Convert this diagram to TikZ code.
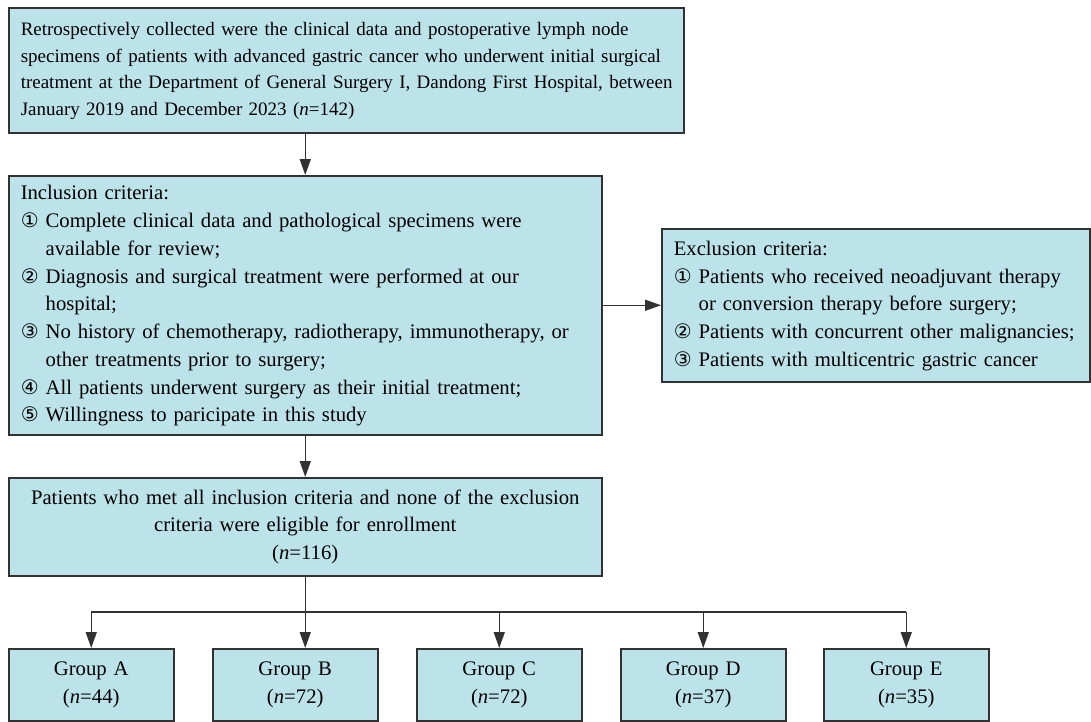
\documentclass[tikz,border=0pt]{standalone}
\usepackage{fontspec}
\setmainfont{Liberation Serif}
\newfontfamily\circfont{DejaVu Sans}
\usetikzlibrary{arrows.meta}
\definecolor{boxfill}{RGB}{188,227,233}
\definecolor{boxline}{RGB}{50,50,50}
\newcommand{\cnum}[1]{{\circfont\fontsize{20}{27.75}\selectfont #1}\hspace{7pt}}
\newcommand{\hang}{\hphantom{\cnum{①}}}
\begin{document}
\begin{tikzpicture}[x=1pt,y=-1pt,
  box/.style={draw=boxline, fill=boxfill, line width=1.5pt, inner xsep=12pt, inner ysep=0pt,
    anchor=north west, font=\fontsize{20.7}{27.75}\selectfont},
  arr/.style={line width=1.5pt, draw=boxline, -{Triangle[length=16pt,width=11pt]}},
  ln/.style={line width=1.5pt, draw=boxline}]
\useasboundingbox (0,0) rectangle (1091,721);

\node[box, text width=651pt, minimum height=125pt, align=left, font=\fontsize{19}{26.5}\selectfont] (top) at (8,7) {\begin{tabular}{@{}l@{}}
Retrospectively collected were the clinical data and postoperative lymph node\\
specimens of patients with advanced gastric cancer who underwent initial surgical\\
treatment at the Department of General Surgery I, Dandong First Hospital, between\\
January 2019 and December 2023 (\textit{n}=142)
\end{tabular}};

\node[box, text width=569pt, minimum height=259pt, align=left] (inc) at (8,175) {\begin{tabular}{@{}l@{}}
Inclusion criteria:\\
\cnum{①}Complete clinical data and pathological specimens were\\
\hang available for review;\\
\cnum{②}Diagnosis and surgical treatment were performed at our\\
\hang hospital;\\
\cnum{③}No history of chemotherapy, radiotherapy, immunotherapy, or\\
\hang other treatments prior to surgery;\\
\cnum{④}All patients underwent surgery as their initial treatment;\\
\cnum{⑤}Willingness to paricipate in this study
\end{tabular}};

\node[box, text width=404pt, minimum height=153pt, align=left] (exc) at (661,228) {\begin{tabular}{@{}l@{}}
Exclusion criteria:\\
\cnum{①}Patients who received neoadjuvant therapy\\
\hang or conversion therapy before surgery;\\
\cnum{②}Patients with concurrent other malignancies;\\
\cnum{③}Patients with multicentric gastric cancer
\end{tabular}};

\node[box, text width=569pt, minimum height=98pt, align=center] (elig) at (8,477) {Patients who met all inclusion criteria and none of the exclusion\\
criteria were eligible for enrollment\\
(\textit{n}=116)};

\node[box, text width=141pt, minimum height=72pt, align=center] (ga) at (8,648) {Group A\\(\textit{n}=44)};
\node[box, text width=141pt, minimum height=72pt, align=center] (gb) at (212,648) {Group B\\(\textit{n}=72)};
\node[box, text width=141pt, minimum height=72pt, align=center] (gc) at (416,648) {Group C\\(\textit{n}=72)};
\node[box, text width=141pt, minimum height=72pt, align=center] (gd) at (620,648) {Group D\\(\textit{n}=37)};
\node[box, text width=141pt, minimum height=72pt, align=center] (ge) at (823,648) {Group E\\(\textit{n}=35)};

\coordinate (bus) at (0,612);

\draw[arr] (inc.north |- top.south) -- (inc.north);
\draw[arr] (inc.east) -- (exc.west);
\draw[arr] (inc.south) -- (elig.north);
\draw[arr] (elig.south) -- (elig.south |- gb.north);
\draw[ln] (ga.north |- bus) -- (ge.north |- bus);
\draw[arr] (ga.north |- bus) -- (ga.north);
\draw[arr] (gc.north |- bus) -- (gc.north);
\draw[arr] (gd.north |- bus) -- (gd.north);
\draw[arr] (ge.north |- bus) -- (ge.north);
\end{tikzpicture}
\end{document}
